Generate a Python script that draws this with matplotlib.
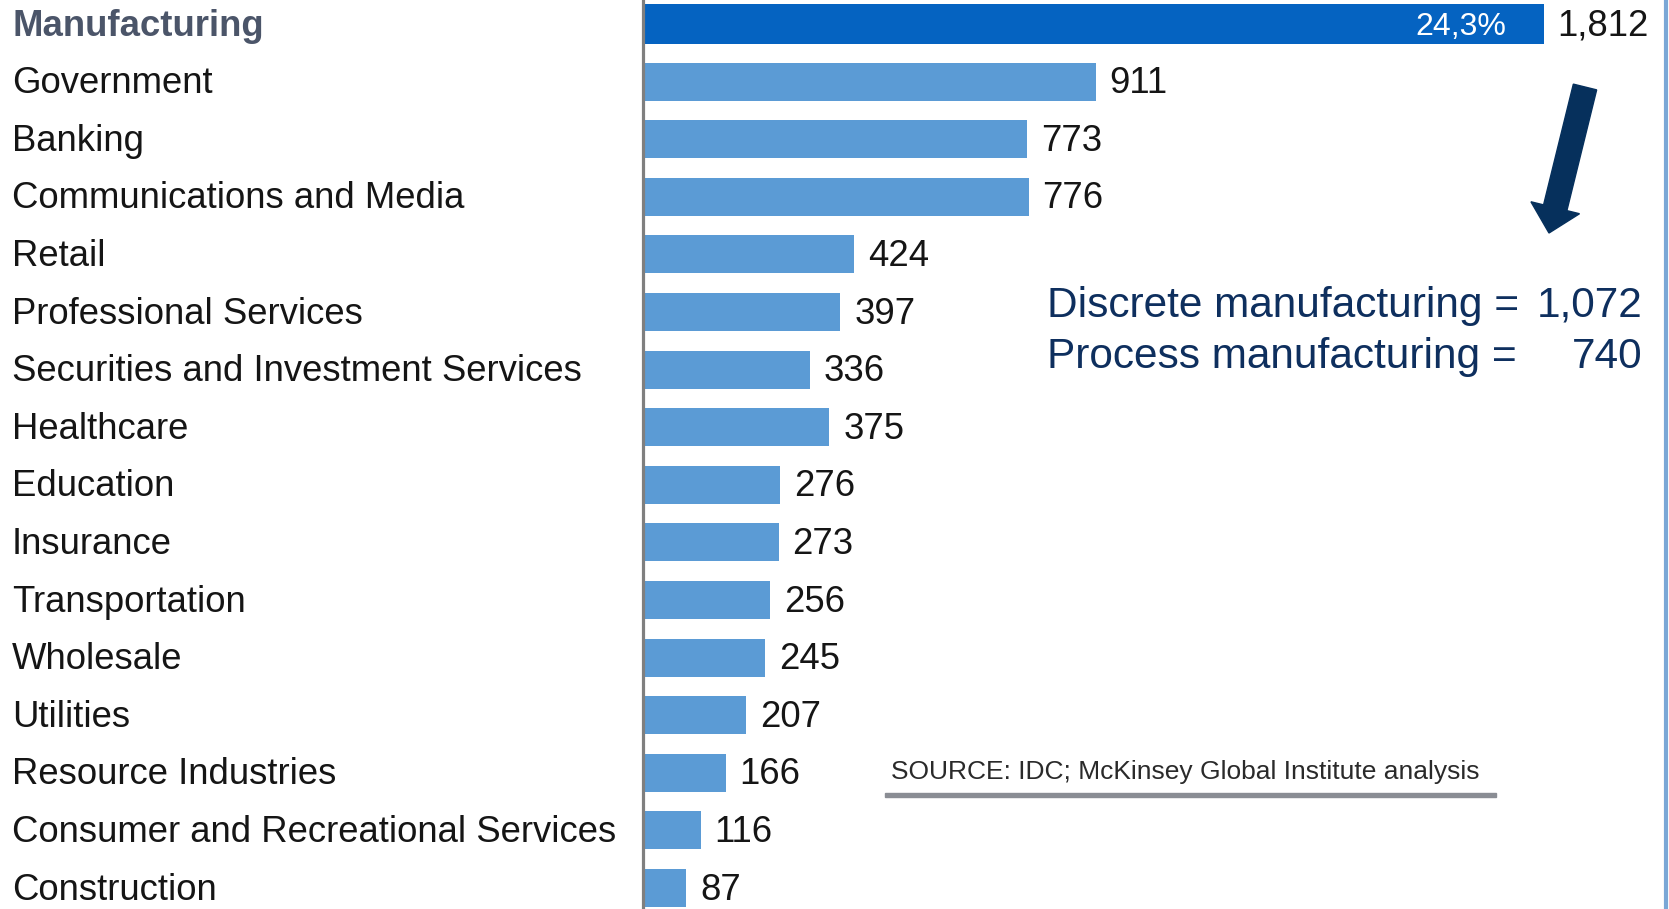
import matplotlib
matplotlib.use("Agg")
import matplotlib.pyplot as plt
from matplotlib.transforms import IdentityTransform, blended_transform_factory
from matplotlib.patches import FancyArrow, Rectangle
from matplotlib.lines import Line2D

categories = ["Manufacturing", "Government", "Banking", "Communications and Media",
              "Retail", "Professional Services", "Securities and Investment Services",
              "Healthcare", "Education", "Insurance", "Transportation", "Wholesale",
              "Utilities", "Resource Industries", "Consumer and Recreational Services",
              "Construction"]
values = [1812, 911, 773, 776, 424, 397, 336, 375, 276, 273, 256, 245, 207, 166, 116, 87]
value_labels = ["1,812", "911", "773", "776", "424", "397", "336", "375", "276", "273",
                "256", "245", "207", "166", "116", "87"]
share_label = "24,3%"
split_names = ["Discrete manufacturing =", "Process manufacturing ="]
split_values = ["1,072", "740"]
source_text = "SOURCE: IDC; McKinsey Global Institute analysis"

W, H = 1669, 909
fig = plt.figure(figsize=(W / 100, H / 100), dpi=100)
fig.patch.set_facecolor("white")

ax_left = 643 / W
ax = fig.add_axes([ax_left, 0, 1 - ax_left, 1])
ax.set_facecolor("none")

n = len(categories)
ypos = list(range(n))
colors = ["#0563C1"] + ["#5B9BD5"] * (n - 1)
heights = [0.69] + [0.66] * (n - 1)
ax.barh(ypos, values, height=heights, color=colors, edgecolor="none", zorder=2)

px_per_unit = 0.497
ax.set_xlim(0, (W - 643) / px_per_unit)
ax.set_ylim((H - 24) / 57.6, -24 / 57.6)
for s in ["top", "right", "bottom"]:
    ax.spines[s].set_visible(False)
ax.spines["left"].set_color("#7F7F7F")
ax.spines["left"].set_linewidth(2.3)
ax.spines["left"].set_zorder(3)
ax.set_xticks([])
ax.set_yticks([])

font = "Liberation Sans"
fs = 26.3
lab_tr = blended_transform_factory(fig.transFigure, ax.transData)
for i, (cat, v, vl) in enumerate(zip(categories, values, value_labels)):
    if i == 0:
        ax.text(12 / W, i + 0.2, cat, transform=lab_tr, ha="left", va="baseline",
                fontsize=fs, fontweight="bold", color="#4B5569", family=font)
    else:
        ax.text(12 / W, i + 0.2, cat, transform=lab_tr, ha="left", va="baseline",
                fontsize=fs, color="#151515", family=font)
    ax.text(v + 28, i + 0.2, vl, ha="left", va="baseline", fontsize=fs,
            color="#151515", family=font)

ax.text(values[0] - 76, 0 + 0.19, share_label, ha="right", va="baseline",
        fontsize=23, color="white", family=font)

def fx(x):
    return x / W

def fy(y):
    return 1 - y / H

for k, (nm, vv) in enumerate(zip(split_names, split_values)):
    base = 317 + 51 * k
    fig.text(fx(1047), fy(base), nm, ha="left", va="baseline", fontsize=30.5,
             color="#0E2F5E", family=font)
    fig.text(fx(1642), fy(base), vv, ha="right", va="baseline", fontsize=30.5,
             color="#0E2F5E", family=font)

arrow = FancyArrow(1585, H - 87, -36, -146, width=24, head_width=50, head_length=26,
                   length_includes_head=True, color="#06305C", transform=IdentityTransform())
fig.add_artist(arrow)

fig.add_artist(Rectangle((885, H - 797), 611, 4, color="#8A8D94", transform=IdentityTransform()))
fig.text(fx(891), fy(779), source_text, ha="left", va="baseline", fontsize=19,
         color="#2A2A2A", family=font)

fig.add_artist(Line2D([fx(1666), fx(1666)], [0, 1], color="#7AA7D6", linewidth=3,
                      transform=fig.transFigure))

fig.savefig("out.png", dpi=100, facecolor="white")
